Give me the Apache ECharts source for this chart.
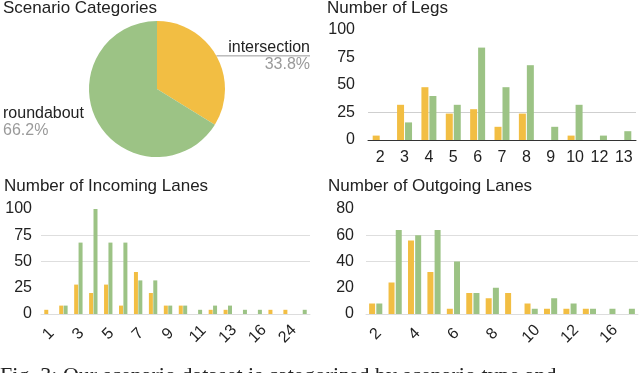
<!DOCTYPE html>
<html>
<head>
<meta charset="utf-8">
<script src="https://cdn.jsdelivr.net/npm/echarts@6/dist/echarts.min.js"></script>
<style>
  html, body { margin: 0; padding: 0; background: #fff; }
  #main { width: 640px; height: 373px; }
</style>
</head>
<body>
<div id="main"></div>
<script>
// scenario share (%)
var pieNames = ['intersection', 'roundabout'];
var pieValues = [33.8, 66.2];

// number of legs
var legCats = ['2', '3', '4', '5', '6', '7', '8', '9', '10', '12', '13'];
var legInter = [4, 32, 48, 24, 28, 12, 24, 0, 4, 0, 0];
var legRound = [0, 16, 40, 32, 84, 48, 68, 12, 32, 4, 8];

// incoming lanes
var inCats = ['1', '2', '3', '4', '5', '6', '7', '8', '9', '10', '11', '12', '13', '14', '16', '20', '24', '32'];
var inInter = [4, 8, 28, 20, 28, 8, 40, 20, 8, 8, 0, 4, 4, 0, 0, 4, 4, 0];
var inRound = [0, 8, 68, 100, 68, 68, 32, 32, 8, 8, 4, 8, 8, 4, 4, 0, 0, 4];

// outgoing lanes
var outCats = ['2', '3', '4', '5', '6', '7', '8', '9', '10', '11', '12', '14', '16', '20'];
var outInter = [8, 24, 56, 32, 4, 16, 12, 16, 8, 4, 4, 4, 0, 0];
var outRound = [8, 64, 60, 64, 40, 16, 20, 0, 4, 12, 8, 4, 4, 4];

var YELLOW = '#F2BE43';
var GREEN = '#9CC385';
var FONT = '"Liberation Sans", Arial, sans-serif';
var INK = '#222';
var NONE = 'rgba(0,0,0,0)';

var chart = echarts.init(document.getElementById('main'), null, { renderer: 'canvas' });

function mkTitle(text, left, top) {
    return {
        text: text, left: left, top: top, padding: 0,
        textStyle: { fontSize: 17, fontWeight: 'normal', color: INK, fontFamily: FONT }
    };
}

function yAx(idx, max, interval, margin, lineColors) {
    return {
        type: 'value', gridIndex: idx, min: 0, max: max, interval: interval,
        axisLabel: { fontSize: 16, color: INK, fontFamily: FONT, margin: margin },
        axisLine: { show: false }, axisTick: { show: false },
        splitLine: { show: true, lineStyle: { color: lineColors, width: 1 } }
    };
}

function bar(name, data, color, xi, yi, width, gap) {
    return {
        type: 'bar', name: name, data: data, xAxisIndex: xi, yAxisIndex: yi,
        barWidth: width, barGap: gap,
        itemStyle: { color: color },
        emphasis: { disabled: true }
    };
}

var option = {
    animation: false,
    backgroundColor: '#fff',
    title: [
        mkTitle('Scenario Categories', 3, 0),
        mkTitle('Number of Legs', 327, 0),
        mkTitle('Number of Incoming Lanes', 4, 178),
        mkTitle('Number of Outgoing Lanes', 328, 178)
    ],
    grid: [
        { left: 368, right: 4, top: 30, height: 110 },
        { left: 41, width: 269, top: 209, height: 105 },
        { left: 366, width: 272, top: 209, height: 105 }
    ],
    xAxis: [
        {
            type: 'category', gridIndex: 0, data: legCats,
            axisLine: { lineStyle: { color: '#333', width: 1 } },
            axisTick: { show: false },
            axisLabel: { fontSize: 16, color: INK, fontFamily: FONT, margin: 10, interval: 0 }
        },
        {
            type: 'category', gridIndex: 1, data: inCats,
            axisLine: { lineStyle: { color: '#ddd', width: 1 } },
            axisTick: { show: false },
            axisLabel: { fontSize: 16, color: INK, fontFamily: FONT, rotate: 45, interval: 1,
                align: 'center', verticalAlign: 'middle', margin: 20 }
        },
        {
            type: 'category', gridIndex: 2, data: outCats,
            axisLine: { lineStyle: { color: '#ddd', width: 1 } },
            axisTick: { show: false },
            axisLabel: { fontSize: 16, color: INK, fontFamily: FONT, rotate: 45, interval: 1,
                align: 'center', verticalAlign: 'middle', margin: 20 }
        }
    ],
    yAxis: [
        yAx(0, 100, 25, 13, [NONE, '#cfcfcf', NONE, NONE, NONE]),
        yAx(1, 100, 25, 9, [NONE, NONE, '#dedede', '#dedede', NONE]),
        yAx(2, 80, 20, 12, [NONE, NONE, '#dedede', '#dedede', NONE])
    ],
    series: [
        {
            type: 'pie',
            left: 0, top: 0, width: 313, height: 180,
            center: [157, 89],
            radius: 68,
            startAngle: 90,
            clockwise: true,
            data: [
                { name: pieNames[0], value: pieValues[0], itemStyle: { color: YELLOW } },
                { name: pieNames[1], value: pieValues[1], itemStyle: { color: GREEN },
                  labelLine: { show: false } }
            ],
            emphasis: { disabled: true },
            label: {
                position: 'outside',
                alignTo: 'edge',
                edgeDistance: 3,
                overflow: 'none',
                formatter: '{n|{b}}\n{p|{d}%}',
                rich: {
                    n: { fontSize: 16, color: INK, fontFamily: FONT, lineHeight: 17 },
                    p: { fontSize: 16, color: '#9a9a9a', fontFamily: FONT, lineHeight: 17 }
                }
            },
            labelLine: { show: true, length: 0, length2: 0, lineStyle: { color: '#999', width: 1 } },
            labelLayout: function (p) {
                // run the leader line under the whole label, as in the source chart
                if (p.dataIndex !== 0 || !p.labelLinePoints) return {};
                var pts = p.labelLinePoints;
                return {
                    labelLinePoints: [pts[0], pts[1], [p.labelRect.x + p.labelRect.width, pts[2][1]]]
                };
            }
        },
        bar('intersection', legInter, YELLOW, 0, 0, 7, '14%'),
        bar('roundabout', legRound, GREEN, 0, 0, 7, '14%'),
        bar('intersection', inInter, YELLOW, 1, 1, 4, '10%'),
        bar('roundabout', inRound, GREEN, 1, 1, 4, '10%'),
        bar('intersection', outInter, YELLOW, 2, 2, 6, '20%'),
        bar('roundabout', outRound, GREEN, 2, 2, 6, '20%')
    ],
    graphic: [
        {
            type: 'text', left: 0, top: 365, silent: true,
            style: {
                text: 'Fig. 3: Our scenario dataset is categorized by scenario type and',
                font: '22px "Liberation Serif", "Times New Roman", serif',
                fill: '#222'
            }
        }
    ]
};

chart.setOption(option);
</script>
</body>
</html>
